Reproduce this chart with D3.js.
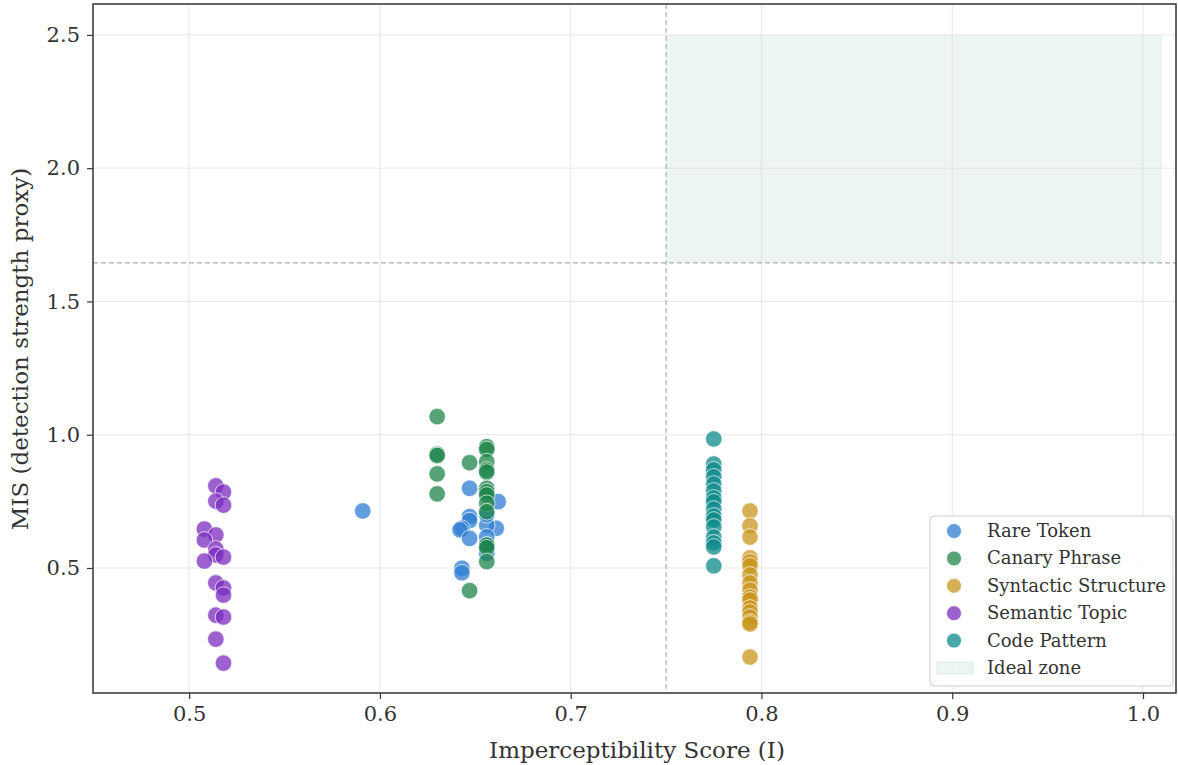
<!DOCTYPE html>
<html><head><meta charset="utf-8">
<script src="https://cdn.jsdelivr.net/npm/d3@7"></script>
<style>body{margin:0;background:#fff;} text{font-family:"DejaVu Serif",serif;}</style>
</head><body><svg id="c" width="1178" height="765"></svg>
<script>
const seriesNames = ["Rare Token","Canary Phrase","Syntactic Structure","Semantic Topic","Code Pattern"];
const seriesColors = ["#2e7dd1","#1e8449","#c8961e","#7b2cbf","#0e8a8a"];
const rareX = [0.591,0.647,0.662,0.647,0.647,0.643,0.642,0.647,0.661,0.656,0.656,0.656,0.643,0.643,0.656,0.656];
const rareY = [0.714,0.799,0.749,0.693,0.678,0.649,0.643,0.611,0.649,0.661,0.617,0.555,0.499,0.482,0.586,0.700];
const canaryX = [0.630,0.630,0.630,0.630,0.630,0.647,0.647,0.656,0.656,0.656,0.656,0.656,0.656,0.656,0.656,0.656,0.656,0.656,0.656,0.656];
const canaryY = [1.068,0.927,0.922,0.853,0.778,0.895,0.415,0.955,0.945,0.899,0.868,0.860,0.799,0.786,0.774,0.743,0.711,0.586,0.576,0.524];
const syntX = [0.794,0.794,0.794,0.794,0.794,0.794,0.794,0.794,0.794,0.794,0.794,0.794,0.794,0.794,0.794,0.794,0.794];
const syntY = [0.714,0.658,0.616,0.538,0.523,0.508,0.474,0.444,0.417,0.391,0.380,0.350,0.335,0.316,0.297,0.290,0.166];
const semX = [0.514,0.518,0.514,0.518,0.508,0.514,0.508,0.514,0.514,0.518,0.508,0.514,0.518,0.518,0.514,0.518,0.514,0.518];
const semY = [0.808,0.785,0.751,0.736,0.646,0.624,0.605,0.571,0.549,0.541,0.526,0.444,0.425,0.398,0.323,0.316,0.233,0.143];
const codeX = [0.775,0.775,0.775,0.775,0.775,0.775,0.775,0.775,0.775,0.775,0.775,0.775,0.775,0.775,0.775,0.775];
const codeY = [0.984,0.890,0.868,0.842,0.815,0.789,0.763,0.748,0.721,0.695,0.680,0.654,0.616,0.594,0.579,0.508];
const xTicks = [0.5,0.6,0.7,0.8,0.9,1.0];
const yTicks = [0.5,1.0,1.5,2.0,2.5];
const thresholdI = 0.75, thresholdMIS = 1.645;
const idealZone = {x0:0.75, x1:1.01, y0:1.645, y1:2.5};

const seriesX = [rareX, canaryX, syntX, semX, codeX];
const seriesY = [rareY, canaryY, syntY, semY, codeY];

const L=93, R=1176, T=4, B=693;
const x = d3.scaleLinear().domain([0.4496,1.0173]).range([L,R]);
const y = d3.scaleLinear().domain([0.031,2.616]).range([B,T]);
const svg = d3.select("#c");

// ideal zone
svg.append("rect").attr("x",x(idealZone.x0)).attr("y",y(idealZone.y1))
  .attr("width",x(idealZone.x1)-x(idealZone.x0)).attr("height",y(idealZone.y0)-y(idealZone.y1))
  .attr("fill","#1e8449").attr("fill-opacity",0.08);

// grid
const g = svg.append("g");
g.selectAll(".gx").data(xTicks).join("line").attr("x1",d=>x(d)).attr("x2",d=>x(d)).attr("y1",T).attr("y2",B)
  .attr("stroke","#dcdcdc").attr("stroke-opacity",0.7).attr("stroke-width",1);
g.selectAll(".gy").data(yTicks).join("line").attr("y1",d=>y(d)).attr("y2",d=>y(d)).attr("x1",L).attr("x2",R)
  .attr("stroke","#dcdcdc").attr("stroke-opacity",0.7).attr("stroke-width",1);

// threshold lines
svg.append("line").attr("x1",x(thresholdI)).attr("x2",x(thresholdI)).attr("y1",T).attr("y2",B)
  .attr("stroke","#999").attr("stroke-width",1.2).attr("stroke-dasharray","5,3").attr("opacity",0.8);
svg.append("line").attr("x1",L).attr("x2",R).attr("y1",y(thresholdMIS)).attr("y2",y(thresholdMIS))
  .attr("stroke","#999").attr("stroke-width",1.2).attr("stroke-dasharray","5,3").attr("opacity",0.8);

// points
seriesNames.forEach((name,i)=>{
  const pts = seriesX[i].map((v,j)=>[v,seriesY[i][j]]);
  svg.append("g").selectAll("circle").data(pts).join("circle")
    .attr("cx",d=>x(d[0])).attr("cy",d=>y(d[1])).attr("r",8.3)
    .attr("fill",seriesColors[i]).attr("fill-opacity",0.75)
    .attr("stroke","#fff").attr("stroke-width",0.8).attr("stroke-opacity",0.9);
});

// axes
const xa = svg.append("g").attr("transform",`translate(0,${B})`)
  .call(d3.axisBottom(x).tickValues(xTicks).tickFormat(d3.format(".1f")).tickSizeOuter(0).tickSize(6).tickPadding(7));
const ya = svg.append("g").attr("transform",`translate(${L},0)`)
  .call(d3.axisLeft(y).tickValues(yTicks).tickFormat(d3.format(".1f")).tickSizeOuter(0).tickSize(6).tickPadding(7));
[xa,ya].forEach(a=>{
  a.select(".domain").remove();
  a.selectAll("line").attr("stroke","#333").attr("stroke-width",1.2);
  a.selectAll("text").attr("fill","#333").style("font-size","21px").style("font-family","DejaVu Serif");
});
svg.append("rect").attr("x",L).attr("y",T).attr("width",R-L).attr("height",B-T)
  .attr("fill","none").attr("stroke","#333").attr("stroke-width",1.5);

svg.append("text").attr("x",637).attr("y",758).attr("text-anchor","middle")
  .attr("fill","#333").style("font-size","23px").text("Imperceptibility Score (I)");
svg.append("text").attr("transform",`translate(28,349) rotate(-90)`).attr("text-anchor","middle")
  .attr("fill","#333").style("font-size","23px").text("MIS (detection strength proxy)");

// legend
const lg = svg.append("g");
lg.append("rect").attr("x",930).attr("y",516).attr("width",243).attr("height",170).attr("rx",4)
  .attr("fill","#fff").attr("fill-opacity",0.85).attr("stroke","#ccc").attr("stroke-width",1);
seriesNames.forEach((name,i)=>{
  const yy = 531 + i*27.4;
  lg.append("circle").attr("cx",954).attr("cy",yy).attr("r",7.5).attr("fill",seriesColors[i]).attr("fill-opacity",0.75)
    .attr("stroke","#fff").attr("stroke-width",0.8);
  lg.append("text").attr("x",987).attr("y",yy+6).attr("fill","#333").style("font-size","18px").text(name);
});
const yy = 531 + 5*27.4;
lg.append("rect").attr("x",937).attr("y",yy-6).attr("width",36).attr("height",12)
  .attr("fill","#1e8449").attr("fill-opacity",0.08).attr("stroke","#1e8449").attr("stroke-opacity",0.1);
lg.append("text").attr("x",987).attr("y",yy+6).attr("fill","#333").style("font-size","18px").text("Ideal zone");
</script></body></html>
